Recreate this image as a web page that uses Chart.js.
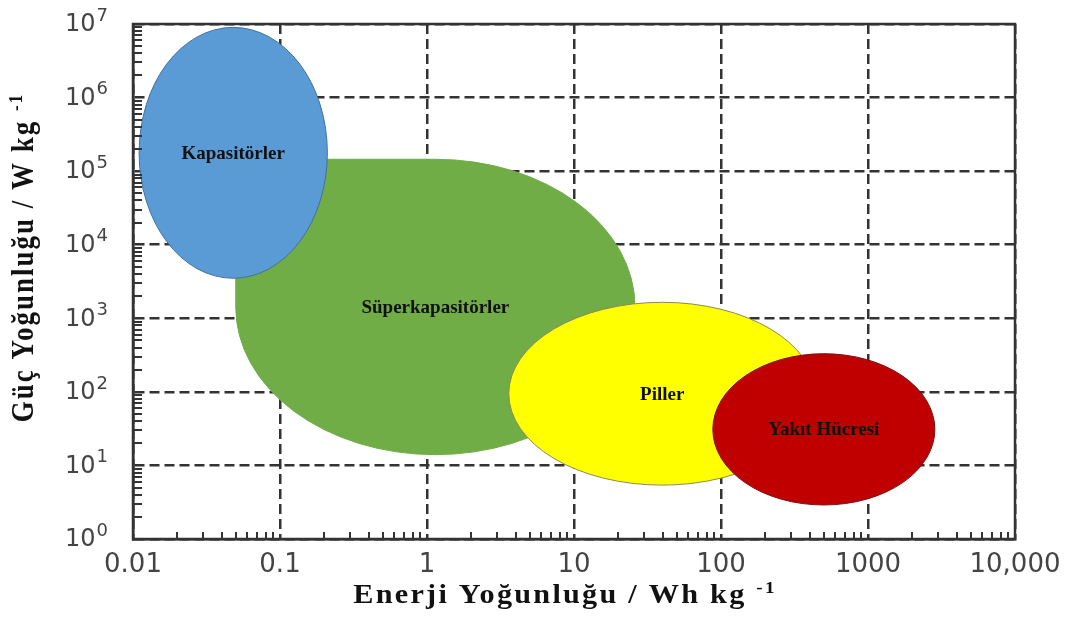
<!DOCTYPE html>
<html>
<head>
<meta charset="utf-8">
<script src="https://cdn.jsdelivr.net/npm/chart.js@4.4.0/dist/chart.umd.min.js"></script>
<style>
  html, body { margin: 0; padding: 0; background: #fff; }
</style>
</head>
<body>
<canvas id="grafico" width="1076" height="619"></canvas>
<script>
// regions, in drawing order (later ones sit on top)
const regions = ["Süperkapasitörler", "Kapasitörler", "Piller", "Yakıt Hücresi"];
const energyMin = [0.05, 0.011, 3.6, 88];     // Wh/kg
const energyMax = [26, 0.21, 440, 2850];
const powerMin = [14, 3500, 5.4, 2.9];        // W/kg
const powerMax = [1.45e5, 9e6, 1650, 330];

// axis ticks
const energyTicks = [0.01, 0.1, 1, 10, 100, 1000, 10000];
const energyLabels = ["0.01", "0.1", "1", "10", "100", "1000", "10,000"];
const powerTicks = [1, 10, 100, 1000, 1e4, 1e5, 1e6, 1e7];
const powerExponents = ["0", "1", "2", "3", "4", "5", "6", "7"];

const fills = ["#70AD47", "#5B9BD5", "#FFFF00", "#C00000"];
const edges = ["#70AD47", "#41719C", "#8a8a55", "#7a1010"];
const ink = "#333";

// ellipses drawn from the two corner points the library placed
const regionPlugin = {
  id: "regions",
  afterDatasetsDraw(chart){
    const ctx = chart.ctx;
    chart.data.datasets.forEach((ds, i) => {
      const pts = chart.getDatasetMeta(i).data;
      const left = Math.min(pts[0].x, pts[1].x), right = Math.max(pts[0].x, pts[1].x);
      const top = Math.min(pts[0].y, pts[1].y), bottom = Math.max(pts[0].y, pts[1].y);
      const cx = (left + right) / 2, cy = (top + bottom) / 2;
      const rx = (right - left) / 2, ry = (bottom - top) / 2;

      ctx.save();
      ctx.beginPath();
      if(ds.squareCorner){
        ctx.moveTo(cx, top);
        ctx.ellipse(cx, cy, rx, ry, 0, -Math.PI / 2, Math.PI);
        ctx.lineTo(left, top);
        ctx.closePath();
      } else {
        ctx.ellipse(cx, cy, rx, ry, 0, 0, Math.PI * 2);
      }
      ctx.fillStyle = ds.backgroundColor;
      ctx.fill();
      ctx.lineWidth = 1;
      ctx.strokeStyle = ds.borderColor;
      ctx.stroke();

      ctx.fillStyle = "#111";
      ctx.font = "bold 19px 'Liberation Serif'";
      ctx.textAlign = "center";
      ctx.textBaseline = "middle";
      ctx.fillText(ds.label, cx, cy + 1);
      ctx.restore();
    });
  }
};

// text with a raised "-1" after it, stretched along the line
function titleText(ctx, main, x, y, stretch){
  ctx.save();
  ctx.translate(x, y);
  ctx.scale(stretch, 1);
  ctx.font = "bold 27px 'Liberation Serif'";
  const mainW = ctx.measureText(main).width;
  ctx.font = "bold 17px 'Liberation Serif'";
  const supW = ctx.measureText("-1").width;
  const start = -(mainW + supW) / 2;
  ctx.font = "bold 27px 'Liberation Serif'";
  ctx.fillText(main, start, 0);
  ctx.font = "bold 17px 'Liberation Serif'";
  ctx.fillText("-1", start + mainW, -10);
  ctx.restore();
}

// frame, inside minor ticks, power-of-ten labels and axis titles
const framePlugin = {
  id: "frame",
  afterDraw(chart){
    const ctx = chart.ctx;
    const a = chart.chartArea;
    const xs = chart.scales.x, ys = chart.scales.y;

    ctx.save();
    ctx.strokeStyle = ink;
    ctx.lineWidth = 2.5;
    ctx.strokeRect(a.left, a.top, a.right - a.left, a.bottom - a.top);

    ctx.lineWidth = 2;
    ctx.beginPath();
    for(let i = 0; i < energyTicks.length - 1; i++){
      for(let m = 2; m <= 9; m++){
        const px = Math.round(xs.getPixelForValue(energyTicks[i] * m));
        ctx.moveTo(px, a.bottom);
        ctx.lineTo(px, a.bottom - 7);
      }
    }
    for(let i = 0; i < powerTicks.length - 1; i++){
      for(let m = 2; m <= 9; m++){
        const py = Math.round(ys.getPixelForValue(powerTicks[i] * m));
        ctx.moveTo(a.left, py);
        ctx.lineTo(a.left + 9, py);
      }
    }
    ctx.stroke();

    // y labels: 10 with raised exponent
    ctx.fillStyle = "#444";
    ctx.textAlign = "left";
    ctx.textBaseline = "middle";
    powerTicks.forEach((v, i) => {
      const py = ys.getPixelForValue(v);
      const x0 = a.left - 68;
      ctx.font = "24px 'DejaVu Sans'";
      ctx.fillText("10", x0, py + 1);
      const w = ctx.measureText("10").width;
      ctx.font = "18px 'DejaVu Sans'";
      ctx.fillText(powerExponents[i], x0 + w + 1, py - 8);
    });

    // axis titles
    ctx.fillStyle = "#111";
    ctx.textAlign = "left";
    ctx.textBaseline = "alphabetic";
    ctx.letterSpacing = "2px";
    titleText(ctx, "Enerji Yoğunluğu / Wh kg ", (a.left + a.right) / 2 - 9, 603, 1.12);

    ctx.save();
    ctx.translate(33, (a.top + a.bottom) / 2 - 24);
    ctx.rotate(-Math.PI / 2);
    ctx.scale(1, 1.15);
    titleText(ctx, "Güç Yoğunluğu / W kg ", 0, 0, 1);
    ctx.restore();
    ctx.restore();
  }
};

const datasets = regions.map((name, i) => ({
  label: name,
  data: [
    { x: energyMin[i], y: powerMin[i] },
    { x: energyMax[i], y: powerMax[i] }
  ],
  backgroundColor: fills[i],
  borderColor: edges[i],
  pointRadius: 0,
  showLine: false,
  squareCorner: name === "Süperkapasitörler"
}));

const canvas = document.getElementById("grafico");

new Chart(canvas, {
  type: "scatter",
  data: { datasets: datasets },
  options: {
    responsive: false,
    animation: false,
    events: [],
    layout: {
      padding: { left: 0, top: 24, right: 61, bottom: 0 }
    },
    plugins: {
      legend: { display: false },
      tooltip: { enabled: false }
    },
    scales: {
      x: {
        type: "logarithmic",
        min: 0.01,
        max: 10000,
        afterBuildTicks: (scale) => { scale.ticks = energyTicks.map(v => ({ value: v })); },
        afterFit: (scale) => { scale.height = 80; },
        ticks: {
          autoSkip: false,
          maxRotation: 0,
          padding: 11,
          color: "#444",
          font: { family: "DejaVu Sans", size: 26 },
          callback: (value, index) => energyLabels[index]
        },
        grid: { color: ink, lineWidth: 2.5, drawTicks: false },
        border: { display: true, color: ink, width: 2.5, dash: [10, 5] }
      },
      y: {
        type: "logarithmic",
        min: 1,
        max: 1e7,
        afterBuildTicks: (scale) => { scale.ticks = powerTicks.map(v => ({ value: v })); },
        afterFit: (scale) => { scale.width = 133; },
        ticks: { display: false },
        grid: { color: ink, lineWidth: 2.5, drawTicks: false },
        border: { display: true, color: ink, width: 2.5, dash: [10, 5] }
      }
    }
  },
  plugins: [regionPlugin, framePlugin]
});
</script>
</body>
</html>
